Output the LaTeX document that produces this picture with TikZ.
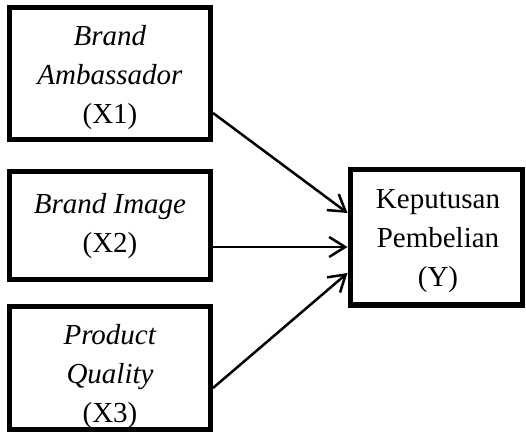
\documentclass[tikz,border=0pt]{standalone}
\usepackage{fontspec}
\setmainfont{Liberation Serif}
\usetikzlibrary{arrows.meta,calc}
\begin{document}
\begin{tikzpicture}[x=1pt,y=1pt,
  boxline/.style={draw=black,line width=5pt,inner sep=0pt},
  txt/.style={align=center,inner sep=0pt,font=\fontsize{29}{39}\selectfont},
  arr/.style={line width=2.5pt,-{Straight Barb[length=16pt,width=20pt,line width=2.5pt]}}]
\useasboundingbox (0,0) rectangle (526,436);
% texts
\node[txt] (t1) at (110,358.75) {\textit{Brand}\\\textit{Ambassador}\\(X1)};
\node[txt] (t2) at (110,210.25) {\textit{Brand Image}\\(X2)};
\node[txt] (t3) at (110,59.25) {\textit{Product}\\\textit{Quality}\\(X3)};
\node[txt] (ty) at (438,194.95) {Keputusan\\Pembelian\\(Y)};
% boxes
\node[boxline,minimum width=201pt,minimum height=132.5pt] (x1) at (110,362.25) {};
\node[boxline,minimum width=201pt,minimum height=108pt] (x2) at (110,210) {};
\node[boxline,minimum width=201pt,minimum height=123pt] (x3) at (110,68.5) {};
\node[boxline,minimum width=172pt,minimum height=135.5pt] (y) at (436,198.75) {};
% arrows
\draw[arr] ($(x1.east)+(0,-39.25)$) -- ($(y.west)+(0,24.25)$);
\draw[arr] ($(x2.east)+(0,-21)$) -- ($(y.west)+(0,-9.75)$);
\draw[arr] ($(x3.east)+(0,-20.5)$) -- ($(y.west)+(0,-35.75)$);
\end{tikzpicture}
\end{document}
